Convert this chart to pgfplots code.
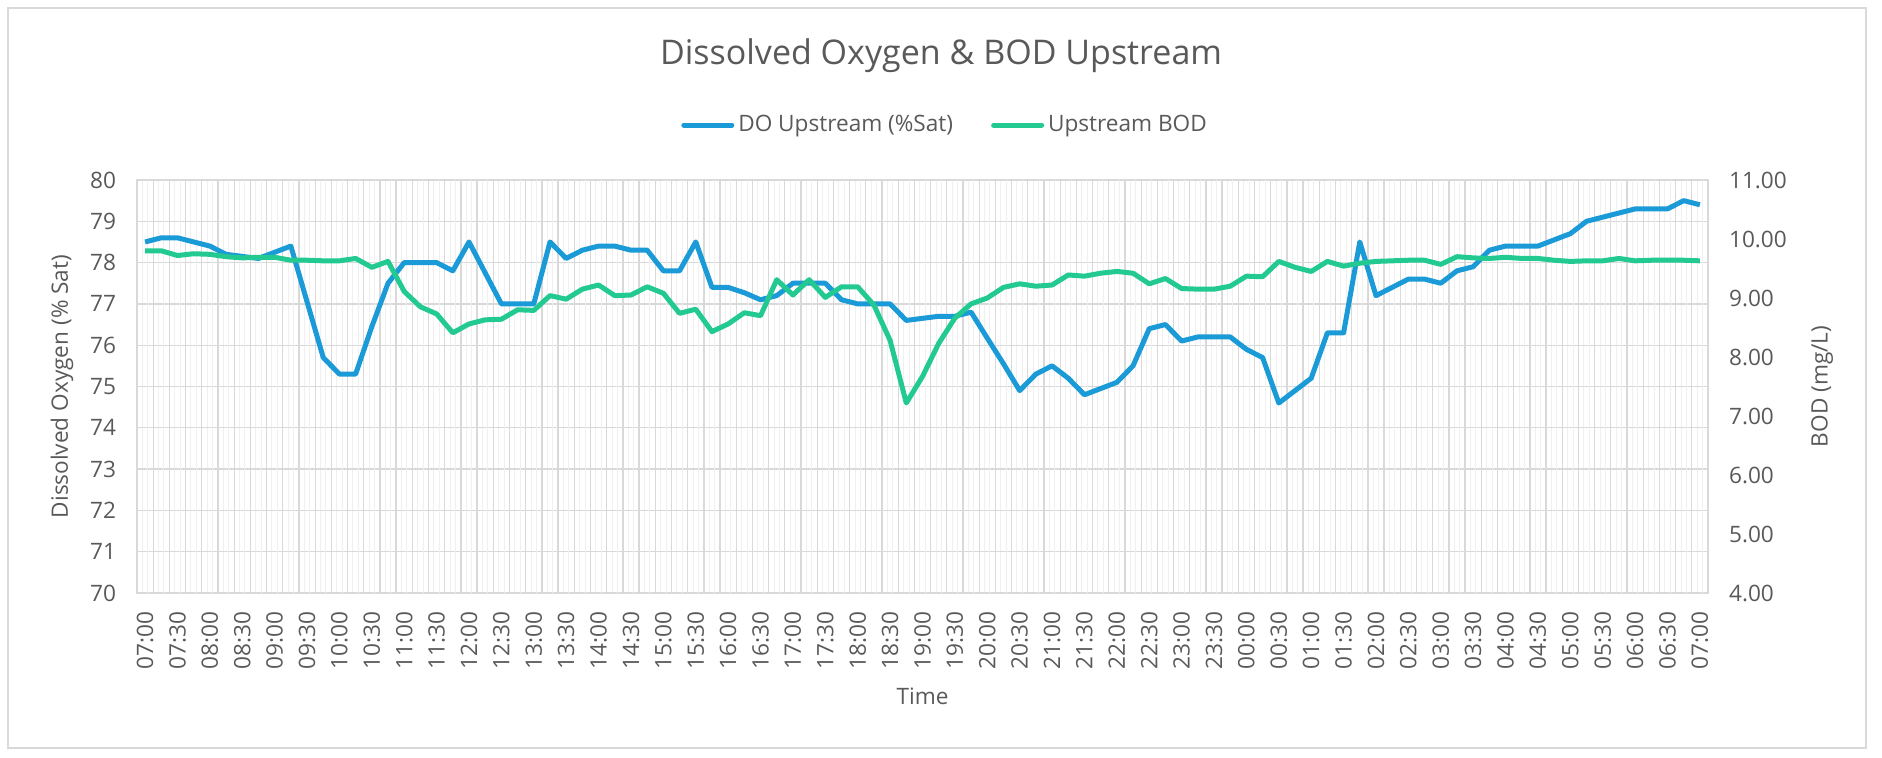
\documentclass[border=0pt]{standalone}
\usepackage{pgfplots}
\pgfplotsset{compat=1.18}
\usepackage{pgfplotstable}
\usepackage{fontspec}
\setmainfont{Open Sans}
\definecolor{doblue}{HTML}{1A9AD6}
\definecolor{bodgreen}{HTML}{22CA92}
\definecolor{gridgray}{HTML}{D9D9D9}
\definecolor{minorgray}{HTML}{F0F0F0}
\definecolor{txt}{HTML}{595959}

\pgfplotstableread{
i DO BOD
0 78.5 9.80
1 78.6 9.80
2 78.6 9.72
3 78.5 9.75
4 78.4 9.74
5 78.2 9.70
6 78.15 9.68
7 78.1 9.69
8 78.25 9.69
9 78.4 9.64
10 77.05 9.64
11 75.7 9.63
12 75.3 9.63
13 75.3 9.67
14 76.45 9.52
15 77.5 9.62
16 78.0 9.11
17 78.0 8.85
18 78.0 8.73
19 77.8 8.41
20 78.5 8.56
21 77.75 8.63
22 77.0 8.64
23 77.0 8.80
24 77.0 8.79
25 78.5 9.04
26 78.1 8.98
27 78.3 9.15
28 78.4 9.22
29 78.4 9.04
30 78.3 9.05
31 78.3 9.19
32 77.8 9.08
33 77.8 8.74
34 78.5 8.81
35 77.4 8.43
36 77.4 8.56
37 77.27 8.75
38 77.1 8.70
39 77.2 9.31
40 77.5 9.05
41 77.5 9.31
42 77.5 9.01
43 77.1 9.19
44 77.0 9.19
45 77.0 8.88
46 77.0 8.28
47 76.6 7.22
48 76.65 7.67
49 76.7 8.23
50 76.7 8.66
51 76.8 8.90
52 76.17 9.00
53 75.55 9.18
54 74.9 9.24
55 75.3 9.20
56 75.5 9.22
57 75.2 9.39
58 74.8 9.37
59 74.95 9.42
60 75.1 9.45
61 75.5 9.42
62 76.4 9.24
63 76.5 9.33
64 76.1 9.16
65 76.2 9.15
66 76.2 9.15
67 76.2 9.20
68 75.9 9.37
69 75.7 9.36
70 74.6 9.62
71 74.9 9.52
72 75.2 9.45
73 76.3 9.62
74 76.3 9.54
75 78.5 9.59
76 77.2 9.62
77 77.4 9.63
78 77.6 9.64
79 77.6 9.64
80 77.5 9.57
81 77.8 9.70
82 77.9 9.68
83 78.3 9.67
84 78.4 9.69
85 78.4 9.67
86 78.4 9.67
87 78.55 9.64
88 78.7 9.62
89 79.0 9.63
90 79.1 9.63
91 79.2 9.67
92 79.3 9.63
93 79.3 9.64
94 79.3 9.64
95 79.5 9.64
96 79.4 9.63
}\datatable

\pgfplotsset{
  common/.style={
    scale only axis, width=785.5pt, height=206.5pt,
    at={(0pt,0pt)}, anchor=south west,
    xmin=-0.5, xmax=96.5,
    major tick length=0pt, minor tick length=0pt,
    tick label style={font=\fontsize{11.3}{13}\selectfont, text=txt},
    label style={font=\fontsize{11.3}{13}\selectfont, text=txt},
    /pgf/number format/assume math mode=true,
  }
}

\begin{document}
\begin{tikzpicture}
\path (-68.5pt,-82.5pt) rectangle (872.5pt,296.5pt);
\draw[gridgray, line width=0.7pt] (-64.5pt,-77.5pt) rectangle (864.5pt,292.5pt);

% grid-only axis
\begin{axis}[common,
  ymin=70, ymax=80, ytick={70,71,...,80}, yticklabels={},
  xtick={-0.5,0.5,...,96.5}, xticklabels={},
  minor xtick={-0.16667,0.83333,...,95.9},
  extra x ticks={0.16667,1.16667,...,96.2},
  extra x tick labels={},
  extra x tick style={grid=major, major grid style={minorgray, line width=0.5pt}},
  xminorgrids, minor grid style={minorgray, line width=0.5pt},
  xmajorgrids, ymajorgrids, major grid style={gridgray, line width=0.65pt},
  axis line style={gridgray, line width=0.65pt},
]
\addplot[draw=none] coordinates {(0,75)};
\end{axis}

\begin{axis}[common,
  ymin=70, ymax=80, ytick={70,71,...,80},
  xtick={0,2,...,96},
  xticklabels={07:00,07:30,08:00,08:30,09:00,09:30,10:00,10:30,11:00,11:30,12:00,12:30,13:00,13:30,14:00,14:30,15:00,15:30,16:00,16:30,17:00,17:30,18:00,18:30,19:00,19:30,20:00,20:30,21:00,21:30,22:00,22:30,23:00,23:30,00:00,00:30,01:00,01:30,02:00,02:30,03:00,03:30,04:00,04:30,05:00,05:30,06:00,06:30,07:00},
  x tick label style={yshift=-6pt, rotate=90, anchor=east},
  axis line style={draw=none},
  yticklabel style={xshift=-7pt},
  ylabel={Dissolved Oxygen (\% Sat)},
  ylabel style={at={(axis description cs:-0.0477,0.5)}, anchor=center},
  xlabel={Time},
  xlabel style={at={(axis description cs:0.5,-0.2494)}, anchor=center},
  legend columns=2,
  legend style={at={(axis description cs:0.515,1.133)}, anchor=center, draw=none, fill=none,
    font=\fontsize{11.3}{13}\selectfont, text=txt,
    /tikz/every even column/.append style={column sep=17pt}},
  legend image code/.code={\draw[#1, line width=2.5pt, line cap=round] (0pt,0pt) -- (24pt,0pt);},
]
\addplot[doblue, line width=2.5pt, line join=round] table[x=i, y=DO] {\datatable};
\addlegendentry{DO Upstream (\%Sat)}
\addlegendimage{bodgreen}
\addlegendentry{Upstream BOD}
\end{axis}

\begin{axis}[common,
  ymin=4, ymax=11, ytick={4,5,...,11},
  axis y line*=right, axis x line=none,
  axis line style={draw=none},
  /pgf/number format/fixed, /pgf/number format/fixed zerofill, /pgf/number format/precision=2,
  yticklabel style={xshift=7pt},
  ylabel={BOD (mg/L)},
  ylabel style={at={(axis description cs:1.0726,0.5)}, anchor=center},
]
\addplot[bodgreen, line width=2.5pt, line join=round] table[x=i, y=BOD] {\datatable};
\end{axis}

\node[font=\fontsize{17}{20}\selectfont, text=txt] at (402pt,268.5pt) {Dissolved Oxygen \& BOD Upstream};
\end{tikzpicture}
\end{document}
